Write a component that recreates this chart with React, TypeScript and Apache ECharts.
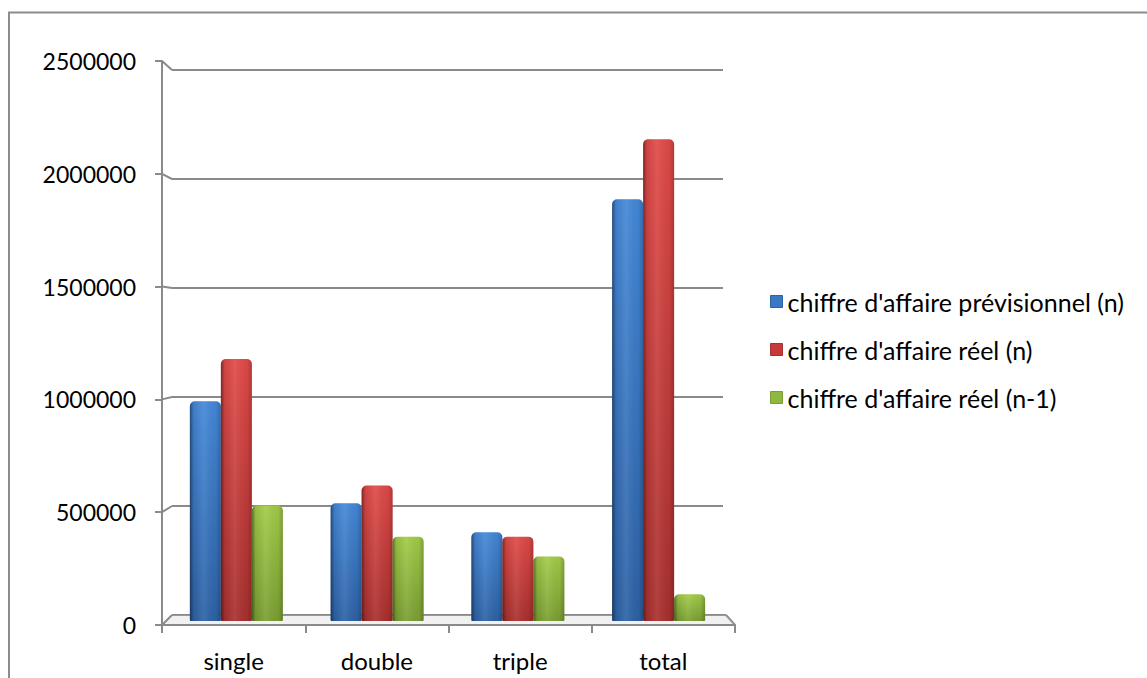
import React, { useEffect, useRef } from "react";
import * as echarts from "echarts";

const categories = ["single", "double", "triple", "total"];
const seriesNames = [
  "chiffre d'affaire prévisionnel (n)",
  "chiffre d'affaire réel (n)",
  "chiffre d'affaire réel (n-1)",
];
const previsionnelN = [990000, 530000, 400000, 1900000];
const reelN = [1180000, 610000, 380000, 2170000];
const reelN1 = [520000, 380000, 290000, 120000];
const yTicks = [0, 500000, 1000000, 1500000, 2000000, 2500000];

const FONT = "Lato";
const GRID_COLOR = "#8a8a8a";

const palettes = [
  { solid: "#3b78c4", top: "#4488d8", bottom: "#2d62a6" },
  { solid: "#c83a38", top: "#e04a48", bottom: "#a8302e" },
  { solid: "#8fb83e", top: "#a2cc48", bottom: "#7a9f32" },
];

export default function App() {
  const ref = useRef<HTMLDivElement>(null);
  useEffect(() => {
    if (!ref.current) return;
    const chart = echarts.init(ref.current, null, { renderer: "svg" });
    const values = [previsionnelN, reelN, reelN1];
    const maxV = yTicks[yTicks.length - 1];

    const baseSeries = values.map((d, i) => ({
      name: seriesNames[i],
      type: "bar",
      xAxisIndex: 2,
      yAxisIndex: 2,
      data: d,
      barWidth: 31,
      barGap: "0%",
      itemStyle: {
        borderRadius: [5, 5, 1, 1],
        color: new echarts.graphic.LinearGradient(0, 0, 0, 1, [
          { offset: 0, color: palettes[i].top },
          { offset: 1, color: palettes[i].bottom },
        ]),
      },
      z: 3,
    }));
    const overlaySeries = values.map((d) => ({
      type: "bar",
      xAxisIndex: 3,
      yAxisIndex: 3,
      data: d,
      barWidth: 31,
      barGap: "0%",
      silent: true,
      itemStyle: {
        borderRadius: [5, 5, 1, 1],
        color: new echarts.graphic.LinearGradient(0, 0, 1, 0, [
          { offset: 0, color: "rgba(0,0,0,0.45)" },
          { offset: 0.12, color: "rgba(0,0,0,0.08)" },
          { offset: 0.45, color: "rgba(255,255,255,0.08)" },
          { offset: 0.85, color: "rgba(0,0,0,0.04)" },
          { offset: 1, color: "rgba(0,0,0,0.22)" },
        ]),
      },
      z: 4,
    }));

    const hiddenCat = (gi: number) => ({
      type: "category",
      gridIndex: gi,
      data: categories,
      show: false,
    });
    const hiddenVal = (gi: number) => ({
      type: "value",
      gridIndex: gi,
      min: 0,
      max: maxV,
      interval: 500000,
      show: false,
      splitLine: { show: false },
    });

    chart.setOption({
      animation: false,
      textStyle: { fontFamily: FONT },
      grid: [
        { left: 162, top: 61, width: 573, height: 564 },
        { left: 172, top: 70, width: 551, height: 545 },
        { left: 166, top: 66, width: 563, height: 555 },
        { left: 166, top: 66, width: 563, height: 555 },
      ],
      xAxis: [
        {
          type: "category",
          gridIndex: 0,
          data: categories,
          axisLine: { show: true, lineStyle: { color: GRID_COLOR, width: 2 } },
          axisTick: { show: true, length: 8, lineStyle: { color: GRID_COLOR, width: 2 } },
          axisLabel: { color: "#000", fontSize: 24, fontFamily: FONT, margin: 23 },
        },
        hiddenCat(1),
        hiddenCat(2),
        hiddenCat(3),
      ],
      yAxis: [
        {
          type: "value",
          gridIndex: 0,
          min: 0,
          max: maxV,
          interval: 500000,
          axisLine: { show: true, lineStyle: { color: GRID_COLOR, width: 2 } },
          axisTick: { show: true, length: 7, lineStyle: { color: GRID_COLOR, width: 2 } },
          axisLabel: {
            color: "#000",
            fontSize: 23,
            fontFamily: FONT,
            margin: 26,
            formatter: (v: number) => String(v),
          },
          splitLine: { show: false },
        },
        {
          type: "value",
          gridIndex: 1,
          min: 0,
          max: maxV,
          interval: 500000,
          axisLine: { show: false },
          axisTick: { show: false },
          axisLabel: { show: false },
          splitLine: { show: true, lineStyle: { color: GRID_COLOR, width: 2 } },
        },
        hiddenVal(2),
        hiddenVal(3),
      ],
      legend: {
        orient: "vertical",
        left: 770,
        top: 289,
        padding: 0,
        itemWidth: 12,
        itemHeight: 12,
        itemGap: 23,
        icon: "rect",
        textStyle: { color: "#000", fontSize: 25, lineHeight: 25, fontFamily: FONT },
        data: seriesNames.map((n, i) => ({
          name: n,
          itemStyle: { color: palettes[i].solid, borderColor: palettes[i].bottom, borderWidth: 1 },
        })),
      },
      series: [...baseSeries, ...overlaySeries],
    });

    // decorative 3D connectors between front axis and back wall, from the axes' own scales
    const graphics: any[] = [];
    const frontLeft = 162;
    const frontRight = 735;
    const backLeft = 172;
    const backRight = 723;
    yTicks.forEach((v) => {
      const fy = chart.convertToPixel({ yAxisIndex: 0 }, v) as number;
      const by = chart.convertToPixel({ yAxisIndex: 1 }, v) as number;
      graphics.push({
        type: "line",
        shape: { x1: frontLeft, y1: fy, x2: backLeft, y2: by },
        style: { stroke: GRID_COLOR, lineWidth: 2 },
        z: 1,
      });
    });
    const f0 = chart.convertToPixel({ yAxisIndex: 0 }, 0) as number;
    const b0 = chart.convertToPixel({ yAxisIndex: 1 }, 0) as number;
    graphics.push({
      type: "line",
      shape: { x1: backRight, y1: b0, x2: backRight + 3, y2: b0 },
      style: { stroke: GRID_COLOR, lineWidth: 2 },
    });
    graphics.push({
      type: "line",
      shape: { x1: backRight + 3, y1: b0, x2: frontRight, y2: f0 },
      style: { stroke: GRID_COLOR, lineWidth: 2 },
    });
    graphics.push({
      type: "polygon",
      shape: {
        points: [
          [backLeft, b0],
          [backRight + 3, b0],
          [frontRight, f0],
          [frontLeft, f0],
        ],
      },
      style: { fill: "rgba(200,200,200,0.25)" },
      z: 0,
    });
    graphics.push({
      type: "rect",
      shape: { x: 9, y: 12.5, width: 1200, height: 800 },
      style: { fill: "none", stroke: "#8c8c8c", lineWidth: 2 },
      z: 0,
    });
    chart.setOption({ graphic: graphics });

    return () => chart.dispose();
  }, []);

  return (
    <div
      ref={ref}
      style={{ position: "fixed", left: 0, top: 0, width: 1147, height: 678, background: "#fff" }}
    />
  );
}
